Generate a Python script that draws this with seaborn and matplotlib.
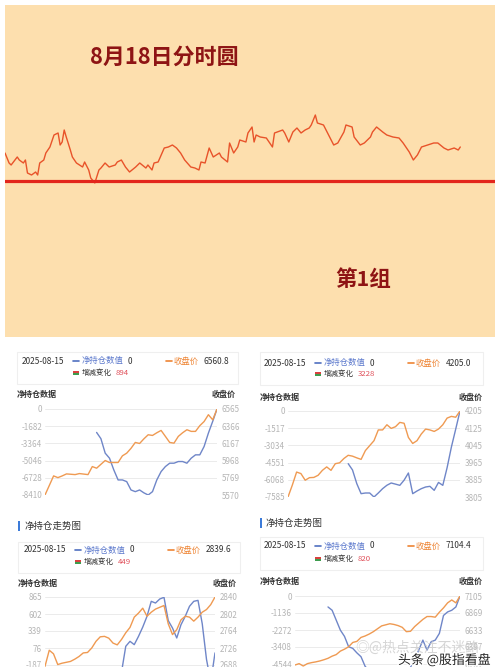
import numpy as np
import pandas as pd
import matplotlib
matplotlib.use("Agg")
import matplotlib.pyplot as plt
import seaborn as sns
from matplotlib.patches import Rectangle
from matplotlib.lines import Line2D
import matplotlib.patheffects as pe

sns.set_style("white")
plt.rcParams["font.family"] = ["Noto Sans CJK SC", "DejaVu Sans"]
plt.rcParams["axes.unicode_minus"] = False

NA = np.nan

# ---------------- top panel: intraday line (minutes, level above reference line)
top_title = "8月18日分时圆"
top_group = "第1组"
minutes = [0, 2, 3, 6, 7, 9, 10, 11, 13, 15, 16, 17, 19, 20, 22, 24, 26, 27, 28, 29,
           30, 32, 33, 35, 38, 39, 41, 42, 44, 46, 47, 49, 51, 54, 55, 57, 59, 61, 64, 66,
           69, 70, 72, 73, 75, 78, 80, 82, 84, 86, 88, 91, 93, 95, 96, 98, 100, 102, 105, 106,
           109, 110, 112, 114, 115, 118, 119, 121, 122, 123, 125, 128, 131, 132, 136, 137, 139, 141, 143, 145,
           147, 149, 150, 152, 153, 156, 159, 161, 163, 166, 167, 170, 171, 174, 176, 179, 180, 182, 185, 187,
           190, 193, 195, 198, 200, 202, 204, 207, 210, 212, 215, 217, 220, 222, 223]
levels = [28, 18, 16, 24, 21, 18, 21, 8, 6, 9, 6, 18, 21, 28, 34, 46, 48, 36, 39, 51,
          44, 31, 24, 18, 14, 19, 11, 3, -2, 11, 13, 18, 14, 16, 19, 21, 14, 9, 14, 18,
          13, 16, 11, 18, 19, 33, 34, 36, 33, 28, 21, 14, 13, 11, 19, 18, 33, 24, 28, 24,
          19, 38, 28, 34, 41, 39, 48, 54, 39, 46, 44, 43, 34, 48, 51, 48, 39, 49, 53, 48,
          51, 53, 56, 66, 58, 56, 44, 36, 38, 49, 56, 54, 44, 36, 38, 44, 49, 54, 49, 46,
          44, 43, 38, 29, 21, 26, 34, 36, 38, 38, 33, 31, 33, 31, 34]
ref_level = 0

# ---------------- four small panels (41 trading days each)
days = list(range(41))

p1_close = [5570, 5680, 5791, 5771, 5791, 5814, 5810, 5806, 5818, 5812, 5806, 5899, 5880, 5925, 5969,
            5946, 5946, 5946, 6023, 6054, 6110, 6178, 6166, 6220, 6267, 6259, 6290, 6317, 6248, 6178,
            6170, 6248, 6290, 6325, 6306, 6306, 6372, 6420, 6499, 6440, 6565]
p1_net = [NA] * 12 + [-2291, -2900, -4319, -4810, -5955, -6937, -6937, -7100, -7918, -8082, -7918,
                      -8200, -8410, -8082, -6937, -6119, -5628, -5300, -5300, -5137, -5137, -5300,
                      -4810, -4483, -4483, -3665, -2356, -1211, 0]
p1_left = [0, -1682, -3364, -5046, -6728, -8410]
p1_right = [6565, 6366, 6167, 5968, 5769, 5570]
p1_info = ("2025-08-15", "0", "6560.8", "894")

p2_close = [3805, 3860, 3921, 3914, 3883, 3895, 3896, 3906, 3929, 3945, 3929, 3960, 3964, 3984, 3999,
            3995, 3987, 3980, 4021, 4044, 4067, 4117, 4117, 4141, 4124, 4132, 4152, 4148, 4082, 4054,
            4067, 4098, 4121, 4117, 4110, 4121, 4141, 4172, 4180, 4176, 4205]
p2_net = [NA] * 14 + [-4645, -5200, -6409, -7291, -7232, -7232, -7585, -7232, -6850, -6550, -6350,
                      -6450, -6556, -6100, -5468, -7291, -7056, -6850, -6703, -6644, -6997, -6300,
                      -6556, -5000, -3175, -1600, 0]
p2_left = [0, -1517, -3034, -4551, -6068, -7585]
p2_right = [4205, 4125, 4045, 3965, 3885, 3805]
p2_info = ("2025-08-15", "0", "4205.0", "3228")

p3_close = [2685, 2721, 2713, 2689, 2692, 2694, 2696, 2701, 2707, 2715, 2716, 2726, 2741, 2751, 2752,
            2748, 2737, 2733, 2745, 2760, 2772, 2795, 2804, 2815, 2797, 2806, 2813, 2817, 2821, 2780,
            2756, 2767, 2789, 2797, 2795, 2786, 2795, 2806, 2812, 2823, 2840]
p3_net = [NA] * 18 + [-300, 102, 179, 128, 256, 400, 566, 798, 772, 834, 860, 500, 385, 231, 437,
                      566, 721, 798, 813, 450, -100, -450, 0]
p3_left = [865, 602, 339, 76, -187, -450]
p3_right = [2840, 2802, 2764, 2726, 2688, 2650]
p3_info = ("2025-08-15", "0", "2839.6", "449")

p4_close = [6147, 6166, 6133, 6166, 6180, 6190, 6203, 6220, 6240, 6270, 6292, 6340, 6367, 6400, 6460,
            6475, 6530, 6550, 6577, 6610, 6650, 6690, 6705, 6720, 6710, 6694, 6670, 6610, 6615, 6680,
            6730, 6780, 6820, 6820, 6811, 6880, 6940, 7010, 7050, 7010, 7105]
p4_net = [NA] * 8 + [-732, -953, -1618, -2283, -2700, -3392, -3500, -3800, -4057, -4700, -5000,
                     -5300, -5500, -5600, -5500, -5600, -5400, -5500, -5300, -5100, -4766, -4200,
                     -3614, -2948, -3614, -3059, -2948, -2500, -1300, -1064, -953, -732, 0]
p4_left = [0, -1136, -2272, -3408, -4544, -5680]
p4_right = [7105, 6869, 6633, 6397, 6161, 5925]
p4_info = ("2025-08-15", "0", "7104.4", "820")

lbl_net = "净持仓数值"
lbl_close = "收盘价"
lbl_chg = "增减变化"
lbl_left_axis = "净持仓数据"
lbl_header = "净持仓走势图"

W, H = 500, 667
fig = plt.figure(figsize=(5.0, 6.67), dpi=100)
fig.patch.set_facecolor("white")


def fx(x):
    return x / W


def fy(y):
    return 1 - y / H


BLUE = "#6F86C8"
ORANGE = "#EF9A52"
DARK = "#333333"
TICK = "#B5B5B5"
RED_TXT = "#E0505A"

# ---------------- top panel
ax0 = fig.add_axes([fx(5), fy(337), (495 - 5) / W, (337 - 5) / H])
ax0.set_facecolor("#FDDFAE")
top_df = pd.DataFrame({"minute": minutes, "level": levels})
sns.lineplot(data=top_df, x="minute", y="level", ax=ax0, color="#E8532A", lw=1.0)
ax0.axhline(ref_level, color="#E3261C", lw=2.3)
ax0.set_xlim(0, 240)
ax0.set_ylim(-156, 176)
ax0.set_xticks([])
ax0.set_yticks([])
ax0.set_xlabel("")
ax0.set_ylabel("")
for s in ax0.spines.values():
    s.set_visible(False)
fig.text(fx(90), fy(57), top_title, fontsize=15.8, fontweight="bold", color="#8E1414", va="center")
fig.text(fx(335), fy(279), top_group, fontsize=15.5, fontweight="bold", color="#8E1414", va="center")


def legend_block(x0, row1, row2, box, info):
    bx0, by0, bx1, by1 = box
    fig.add_artist(Rectangle((fx(bx0), fy(by1)), (bx1 - bx0) / W, (by1 - by0) / H,
                             transform=fig.transFigure, fill=False, edgecolor="#EFEFEF", lw=0.8))
    date, netv, closev, chg = info
    fs = 6
    fig.text(fx(x0), fy(row1), date, fontsize=fs, color=DARK, va="center")
    fig.add_artist(Line2D([fx(x0 + 51), fx(x0 + 57)], [fy(row1), fy(row1)],
                          transform=fig.transFigure, color="#4F6FC0", lw=1.2))
    fig.text(fx(x0 + 60), fy(row1), lbl_net, fontsize=fs, color="#5B78CC", va="center")
    fig.text(fx(x0 + 106), fy(row1), netv, fontsize=fs, color=DARK, va="center")
    fig.add_artist(Line2D([fx(x0 + 144), fx(x0 + 150)], [fy(row1), fy(row1)],
                          transform=fig.transFigure, color="#EE8433", lw=1.2))
    fig.text(fx(x0 + 152), fy(row1), lbl_close, fontsize=fs, color="#EE8433", va="center")
    fig.text(fx(x0 + 182), fy(row1), closev, fontsize=fs, color=DARK, va="center")
    # red / green icon
    fig.add_artist(Rectangle((fx(x0 + 51), fy(row2 - 0.3)), 6 / W, 2.2 / H,
                             transform=fig.transFigure, color="#D9413F", lw=0))
    fig.add_artist(Rectangle((fx(x0 + 51), fy(row2 + 2.4)), 6 / W, 2.2 / H,
                             transform=fig.transFigure, color="#3E9C4E", lw=0))
    fig.text(fx(x0 + 60), fy(row2), lbl_chg, fontsize=5.4, color=DARK, va="center")
    fig.text(fx(x0 + 94), fy(row2), chg, fontsize=5.6, color=RED_TXT, va="center")


def panel(px0, px1, ptop, pbot, net, close, left, right, lab_y, lab_x0, lab_x1):
    ax = fig.add_axes([fx(px0), fy(pbot), (px1 - px0) / W, (pbot - ptop) / H])
    ax.set_facecolor("none")
    df = pd.DataFrame({"day": days, "net": net, "close": close})
    sns.lineplot(data=df.dropna(subset=["net"]), x="day", y="net", ax=ax, color=BLUE, lw=1.0)
    ax.set_ylim(left[-1], left[0])
    ax.set_yticks(left)
    ax.set_yticklabels([str(v) for v in left])
    ax.set_xlim(0, 40)
    ax.set_xticks([])
    ax.set_xlabel("")
    ax.set_ylabel("")
    ax.grid(axis="y", color="#EBEBEB", lw=0.7)
    ax.tick_params(axis="y", length=0, pad=2.2, labelsize=5.8, labelcolor=TICK)
    ax2 = ax.twinx()
    sns.lineplot(data=df, x="day", y="close", ax=ax2, color=ORANGE, lw=1.0)
    ax2.set_ylim(right[-1], right[0])
    ax2.set_yticks(right)
    ax2.set_yticklabels([str(v) for v in right])
    ax2.set_xlim(0, 40)
    ax2.set_ylabel("")
    ax2.set_xlabel("")
    ax2.tick_params(axis="y", length=0, pad=3.6, labelsize=5.8, labelcolor=TICK)
    for a in (ax, ax2):
        for s in a.spines.values():
            s.set_visible(False)
    fig.text(fx(lab_x0), fy(lab_y), lbl_left_axis, fontsize=5.8, color=DARK, va="center",
             fontweight="bold")
    fig.text(fx(lab_x1), fy(lab_y), lbl_close, fontsize=5.8, color=DARK, va="center", ha="right",
             fontweight="bold")
    return ax, ax2


# panel 1 (top-left)
legend_block(22, 361, 373, (17, 352, 238, 384), p1_info)
panel(45, 217, 409, 495, p1_net, p1_close, p1_left, p1_right, 394, 17, 236)

# panel 2 (top-right)
legend_block(264, 363, 374, (260, 352, 483, 385), p2_info)
panel(288, 460, 411, 497, p2_net, p2_close, p2_left, p2_right, 397, 260, 483)

# panel 3 (bottom-left)
fig.add_artist(Rectangle((fx(18), fy(531)), 2.2 / W, 10 / H, transform=fig.transFigure,
                         color="#3C7BD9", lw=0))
fig.text(fx(25), fy(526), lbl_header, fontsize=6.8, color=DARK, va="center")
legend_block(24, 550, 562, (18, 542, 240, 573), p3_info)
panel(45, 215, 597, 682, p3_net, p3_close, p3_left, p3_right, 583, 18, 237)

# panel 4 (bottom-right)
fig.add_artist(Rectangle((fx(260), fy(528)), 2.2 / W, 10 / H, transform=fig.transFigure,
                         color="#3C7BD9", lw=0))
fig.text(fx(266), fy(523), lbl_header, fontsize=6.8, color=DARK, va="center")
legend_block(264, 546, 559, (260, 537, 483, 570), p4_info)
panel(295, 460, 596, 681, p4_net, p4_close, p4_left, p4_right, 581, 260, 483)

# watermarks
fig.text(fx(355), fy(648), "◎@热点关注不迷路", fontsize=10, color="#C9C9C9", alpha=0.75, va="center")
fig.text(fx(398), fy(660), "头条 @股指看盘", fontsize=9.3, color="#222222", va="center",
         path_effects=[pe.withStroke(linewidth=2, foreground="white")])

fig.savefig("out.png", dpi=100, facecolor="white")
